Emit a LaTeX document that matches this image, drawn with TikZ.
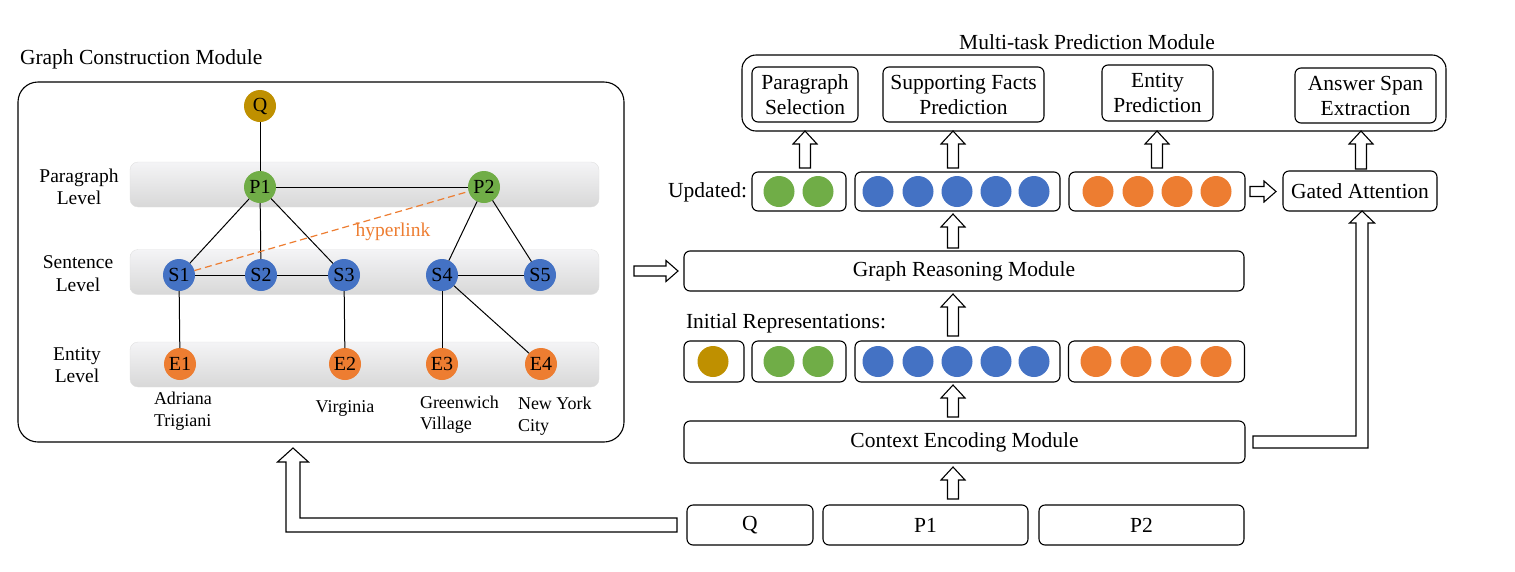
\documentclass[tikz,border=0pt]{standalone}
\usepackage{fontspec}
\setmainfont{Liberation Serif}
\usetikzlibrary{calc}
\definecolor{cgold}{HTML}{BF9000}
\definecolor{cgreen}{HTML}{70AD47}
\definecolor{cblue}{HTML}{4472C4}
\definecolor{corange}{HTML}{ED7D31}
\definecolor{bandtop}{HTML}{F4F4F6}
\definecolor{bandbot}{HTML}{D8D8D8}
\tikzset{
  every node/.style={inner sep=0pt, outer sep=0pt},
  big/.style={font=\fontsize{21.5}{25}\selectfont},
  lab/.style={font=\fontsize{19.5}{22.5}\selectfont, align=center},
  ent/.style={font=\fontsize{18}{21.5}\selectfont, align=left},
  gnode/.style={circle, minimum size=32pt, font=\fontsize{20}{22}\selectfont},
  vec/.style={circle, minimum size=31pt},
  rbox/.style={draw, rounded corners=6pt, line width=1.1pt, big, align=center},
  band/.style={rounded corners=8pt, top color=bandtop, bottom color=bandbot, draw=black!12, minimum width=469pt, minimum height=45pt},
  edge/.style={line width=1pt},
  blk/.style={draw, fill=white, line width=1.1pt, line join=miter},
}
\newcommand\uparr[2]{\draw[blk] let \p1=#1, \p2=#2 in
  (\x1-5.5pt,\y1) -- (\x1-5.5pt,\y2-13pt) -- (\x1-12pt,\y2-13pt) -- (\x1,\y2)
  -- (\x1+12pt,\y2-13pt) -- (\x1+5.5pt,\y2-13pt) -- (\x1+5.5pt,\y1) -- cycle;}
\newcommand\rtarr[2]{\draw[blk] let \p1=#1, \p2=#2 in
  (\x1,\y1-5pt) -- (\x2-12pt,\y1-5pt) -- (\x2-12pt,\y1-10.5pt) -- (\x2,\y1)
  -- (\x2-12pt,\y1+10.5pt) -- (\x2-12pt,\y1+5pt) -- (\x1,\y1+5pt) -- cycle;}
\begin{document}
\begin{tikzpicture}[x=1pt,y=-1pt]
\useasboundingbox (0,0) rectangle (1515,571);
% ---------------- left: graph construction
\node[big, anchor=west] (gcmtitle) at (20,59) {Graph Construction Module};
\node[draw, rounded corners=20pt, line width=1.1pt, minimum width=606pt, minimum height=360pt] (gcm) at (321,262) {};
\node[band] (bandP) at (364.5,184.5) {};
\node[band] (bandS) at (364.5,272) {};
\node[band] (bandE) at (364.5,364.5) {};
\node[lab] (lP) at (79,187) {Paragraph\\Level};
\node[lab] (lS) at (78,273.5) {Sentence\\Level};
\node[lab] (lE) at (77,365) {Entity\\Level};

\node[gnode, fill=cgold] (Q) at (260,106) {Q};
\node[gnode, fill=cgreen] (P1) at (260,187) {P1};
\node[gnode, fill=cgreen] (P2) at (484,187) {P2};
\node[gnode, fill=cblue] (S1) at (179,275) {S1};
\node[gnode, fill=cblue] (S2) at (261,275) {S2};
\node[gnode, fill=cblue] (S3) at (344,275) {S3};
\node[gnode, fill=cblue] (S4) at (442,275) {S4};
\node[gnode, fill=cblue] (S5) at (540,275) {S5};
\node[gnode, fill=corange] (E1) at (180,364) {E1};
\node[gnode, fill=corange] (E2) at (345,364) {E2};
\node[gnode, fill=corange] (E3) at (442,364) {E3};
\node[gnode, fill=corange] (E4) at (541,364) {E4};

\draw[edge] (Q) -- (P1);
\draw[edge] (P1) -- (P2);
\draw[edge] (P1) -- (S1);
\draw[edge] (P1) -- (S2);
\draw[edge] (P1) -- (S3);
\draw[edge] (P2) -- (S4);
\draw[edge] (P2) -- (S5);
\draw[edge] (S1) -- (S2);
\draw[edge] (S2) -- (S3);
\draw[edge] (S4) -- (S5);
\draw[edge] (S1) -- (E1);
\draw[edge] (S3) -- (E2);
\draw[edge] (S4) -- (E3);
\draw[edge] (S4) -- (E4);
\draw[corange, line width=1.2pt, dash pattern=on 7pt off 4pt] (S1) -- (P2);
\node[lab, text=corange] (hyp) at (393,232) {hyperlink};

\node[ent, anchor=west] (n1) at (154,411) {Adriana\\Trigiani};
\node[ent] (n2) at (345,408.5) {Virginia};
\node[ent, anchor=west] (n3) at (420,414.5) {Greenwich\\Village};
\node[ent, anchor=west] (n4) at (518,416) {New York\\City};

% ---------------- right
\node[big] (mtptitle) at (1087,42) {Multi-task Prediction Module};
\node[draw, rounded corners=14pt, line width=1.1pt, minimum width=704pt, minimum height=76pt] (mtp) at (1094,93) {};
\node[rbox, minimum width=106pt, minimum height=55pt] (ps) at (805,94.5) {Paragraph\\Selection};
\node[rbox, minimum width=161pt, minimum height=55pt] (sfp) at (963.5,94.5) {Supporting Facts\\Prediction};
\node[rbox, minimum width=111pt, minimum height=56pt] (ep) at (1157.5,93) {Entity\\Prediction};
\node[rbox, minimum width=141pt, minimum height=55pt] (ase) at (1365.5,95.5) {Answer Span\\Extraction};

\node[big, anchor=east] (updlab) at (747,192) {Updated:};
\node[rbox, minimum width=94pt, minimum height=39pt] (ug) at (799,191.5) {};
\node[rbox, minimum width=205pt, minimum height=39pt] (ub) at (957.5,191.5) {};
\node[rbox, minimum width=176pt, minimum height=39pt] (uo) at (1157,191.5) {};
\node[rbox, minimum width=154pt, minimum height=40pt] (ga) at (1360,191) {Gated Attention};
\foreach \x [count=\i] in {779,818} \node[vec, fill=cgreen] (ugc\i) at (\x,191.5) {};
\foreach \x [count=\i] in {878,918,957,996,1034} \node[vec, fill=cblue] (ubc\i) at (\x,191.5) {};
\foreach \x [count=\i] in {1098,1138,1177,1216} \node[vec, fill=corange] (uoc\i) at (\x,191.5) {};

\node[rbox, minimum width=560pt, minimum height=40pt] (grm) at (964,271) {Graph Reasoning Module};
\node[big, anchor=west] (initlab) at (686,323) {Initial Representations:};
\node[rbox, minimum width=60pt, minimum height=41pt] (iq) at (714,361.5) {};
\node[rbox, minimum width=94pt, minimum height=41pt] (ig) at (799,361.5) {};
\node[rbox, minimum width=205pt, minimum height=41pt] (ib) at (957.5,361.5) {};
\node[rbox, minimum width=176pt, minimum height=41pt] (io) at (1156.5,361.5) {};
\node[vec, fill=cgold] (iqc) at (713,361.5) {};
\foreach \x [count=\i] in {779,818} \node[vec, fill=cgreen] (igc\i) at (\x,361.5) {};
\foreach \x [count=\i] in {878,918,957,996,1034} \node[vec, fill=cblue] (ibc\i) at (\x,361.5) {};
\foreach \x [count=\i] in {1096,1136,1176,1216} \node[vec, fill=corange] (ioc\i) at (\x,361.5) {};

\node[rbox, minimum width=561pt, minimum height=42pt] (cem) at (964.5,442) {Context Encoding Module};
\node[rbox, minimum width=126pt, minimum height=40pt] (qin) at (750,525) {Q};
\node[rbox, minimum width=205pt, minimum height=40pt] (p1in) at (925.5,525) {P1};
\node[rbox, minimum width=205pt, minimum height=40pt] (p2in) at (1141.5,525) {P2};

\coordinate (ax) at (953,0);
\coordinate (gx) at (293,0);

% vertical block arrows
\uparr{([yshift=4pt]ug.north -| ps.south)}{(mtp.south)}
\uparr{([yshift=4pt]ub.north -| ax)}{(mtp.south)}
\uparr{([yshift=4pt]uo.north)}{(mtp.south)}
\uparr{([yshift=2pt,xshift=1pt]ga.north)}{(mtp.south)}
\uparr{([yshift=3pt]grm.north -| ax)}{([yshift=-3pt]ub.south -| ax)}
\uparr{([yshift=5pt]ib.north -| ax)}{([yshift=-3pt]grm.south -| ax)}
\uparr{([yshift=4pt]cem.north -| ax)}{([yshift=-3pt]ib.south -| ax)}
\uparr{([yshift=6pt]p1in.north -| ax)}{([yshift=-4pt]cem.south -| ax)}

% horizontal block arrows
\rtarr{([xshift=10pt]gcm.east |- grm.west)}{([xshift=-6pt]grm.west)}
\rtarr{([xshift=5pt]uo.east)}{([xshift=-7pt]ga.west)}

% elbow arrows
\draw[blk] let \p1=([xshift=8pt]cem.east), \p2=([xshift=2pt]ga.south) in
  (\x1,\y1+6pt) -- (\x2-6pt,\y1+6pt) -- (\x2-6pt,\y2-12pt) -- (\x2-12.5pt,\y2-12pt)
  -- (\x2,\y2) -- (\x2+12.5pt,\y2-12pt) -- (\x2+6pt,\y2-12pt) -- (\x2+6pt,\y1-6pt)
  -- (\x1,\y1-6pt) -- cycle;
\draw[blk] let \p1=([xshift=-10pt]qin.west), \p2=([yshift=-6pt]gcm.south -| gx) in
  (\x1,\y1+7pt) -- (\x2+7pt,\y1+7pt) -- (\x2+7pt,\y2-14pt) -- (\x2+15.5pt,\y2-14pt)
  -- (\x2,\y2) -- (\x2-15.5pt,\y2-14pt) -- (\x2-7pt,\y2-14pt) -- (\x2-7pt,\y1-7pt)
  -- (\x1,\y1-7pt) -- cycle;
\end{tikzpicture}
\end{document}
